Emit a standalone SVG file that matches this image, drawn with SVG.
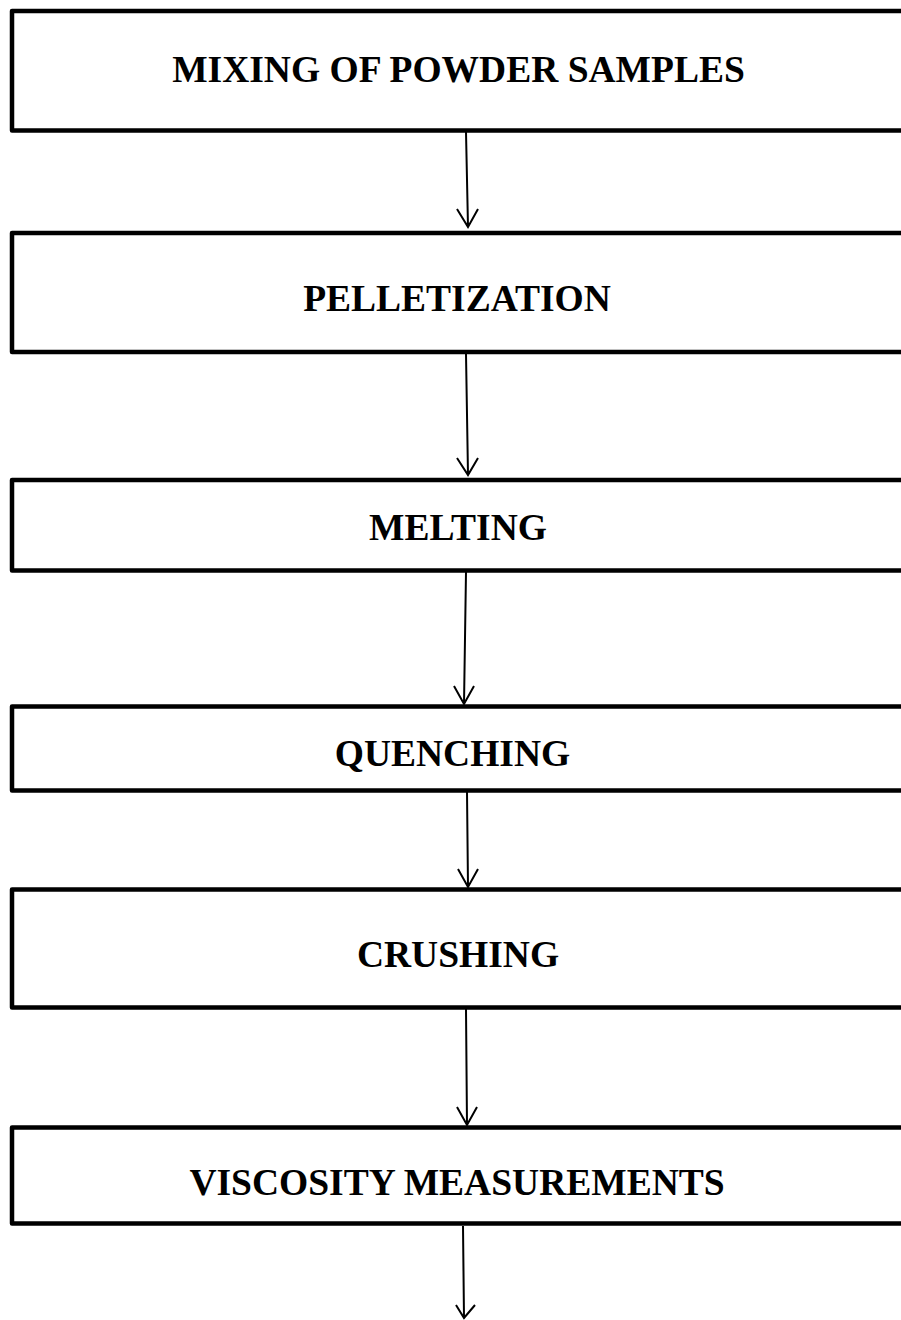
<svg xmlns="http://www.w3.org/2000/svg" width="901" height="1320" viewBox="0 0 901 1320">
<style>
.box{fill:#fff;stroke:#000;stroke-width:4.5;stroke-linejoin:round}
.lbl{font-family:"Liberation Serif","Times New Roman",serif;font-weight:bold;font-size:37.5px;fill:#000;text-anchor:middle}
.conn{stroke:#000;stroke-width:2;fill:none}
</style>
<rect x="0" y="0" width="901" height="1320" fill="#fff"/>
<g id="n1"><rect class="box" x="12" y="11" width="900" height="119.5"/><text class="lbl" x="458.5" y="82">MIXING OF POWDER SAMPLES</text></g>
<g id="n2"><rect class="box" x="12" y="233" width="900" height="119"/><text class="lbl" x="457" y="311">PELLETIZATION</text></g>
<g id="n3"><rect class="box" x="12" y="480" width="900" height="90.5"/><text class="lbl" x="458" y="540">MELTING</text></g>
<g id="n4"><rect class="box" x="12" y="706.5" width="900" height="84"/><text class="lbl" x="452.5" y="766">QUENCHING</text></g>
<g id="n5"><rect class="box" x="12" y="889.5" width="900" height="118"/><text class="lbl" x="458" y="967">CRUSHING</text></g>
<g id="n6"><rect class="box" x="12" y="1127.5" width="900" height="96"/><text class="lbl" x="457" y="1195">VISCOSITY MEASUREMENTS</text></g>
<g id="connectors">
<path class="conn" d="M466,132 L468,227 M457,209 L468,227 L478,209"/>
<path class="conn" d="M466,354 L468,475 M457,458 L468,475 L478,458"/>
<path class="conn" d="M466,572 L464,704 M454,686 L464,704 L474,686"/>
<path class="conn" d="M467,792 L468,887 M458,869 L468,887 L478,869"/>
<path class="conn" d="M466,1009 L467,1125 M457,1107 L467,1125 L477,1107"/>
<path class="conn" d="M463,1226 L464,1318 M456,1305 L464,1318 L475,1305"/>
</g>
</svg>
